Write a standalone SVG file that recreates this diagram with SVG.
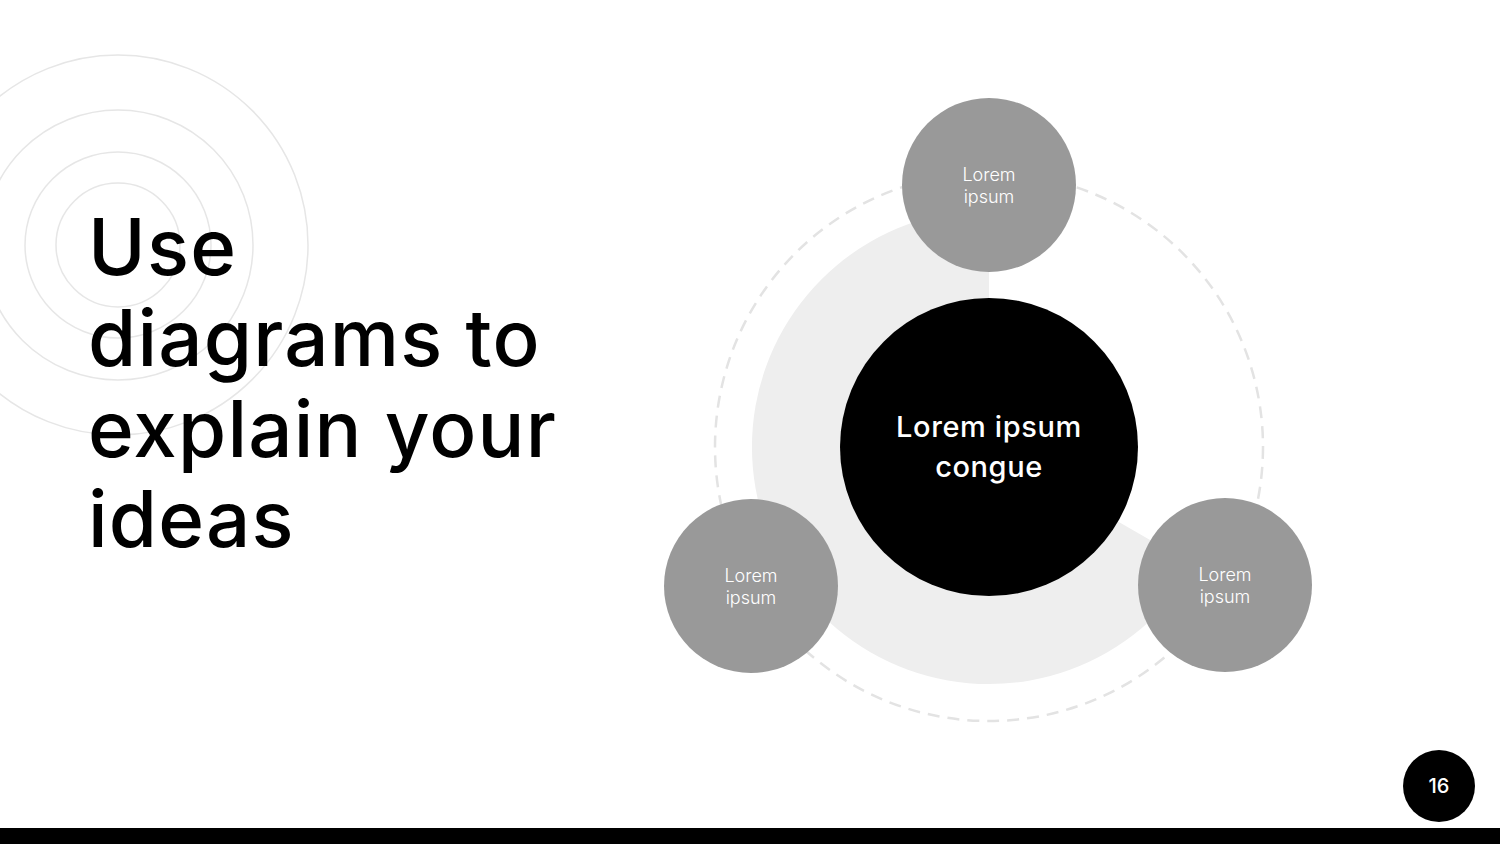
<svg xmlns="http://www.w3.org/2000/svg" width="1500" height="844" viewBox="0 0 1500 844">
<style>
.ring{fill:none;stroke:#e6e6e6;stroke-width:1.5}
.title{font-family:Inter,"Open Sans","Liberation Sans",sans-serif;font-weight:500;font-size:78px;fill:#000;letter-spacing:1.2px}
.sat{fill:#999999}
.satlbl{font-family:Inter,"Open Sans","Liberation Sans",sans-serif;font-weight:300;font-size:18px;fill:#fff;text-anchor:middle}
.hub{font-family:Inter,"Open Sans","Liberation Sans",sans-serif;font-weight:500;font-size:29px;fill:#fff;text-anchor:middle;letter-spacing:0.6px}
</style>
<rect width="1500" height="844" fill="#fff"/>
<g id="rings">
<circle class="ring" cx="118" cy="245" r="62"/>
<circle class="ring" cx="118" cy="245" r="93"/>
<circle class="ring" cx="118" cy="245" r="135"/>
<circle class="ring" cx="118" cy="245" r="190"/>
</g>
<g id="title">
<text class="title" x="88" y="275">Use</text>
<text class="title" x="88" y="366">diagrams to</text>
<text class="title" x="88" y="457">explain your</text>
<text class="title" x="88" y="547">ideas</text>
</g>
<g id="connectors">
<circle cx="989" cy="447" r="274" fill="none" stroke="#e3e3e3" stroke-width="2.5" stroke-dasharray="12 8"/>
<path d="M989,447 L1194.2,565.5 A237,237 0 1 1 989,210 Z" fill="#eeeeee"/>
</g>
<g id="node-top">
<circle class="sat" cx="989" cy="185" r="87"/>
<text class="satlbl" x="989" y="181">Lorem</text>
<text class="satlbl" x="989" y="203">ipsum</text>
</g>
<g id="node-left">
<circle class="sat" cx="751" cy="586" r="87"/>
<text class="satlbl" x="751" y="582">Lorem</text>
<text class="satlbl" x="751" y="604">ipsum</text>
</g>
<g id="node-right">
<circle class="sat" cx="1225" cy="585" r="87"/>
<text class="satlbl" x="1225" y="581">Lorem</text>
<text class="satlbl" x="1225" y="603">ipsum</text>
</g>
<g id="node-center">
<circle cx="989" cy="447" r="149" fill="#000"/>
<text class="hub" x="989" y="437">Lorem ipsum</text>
<text class="hub" x="989" y="477">congue</text>
</g>
<g id="page-number">
<circle cx="1439" cy="786" r="36" fill="#000"/>
<text x="1439" y="793" font-family="Inter,'Open Sans','Liberation Sans',sans-serif" font-weight="500" font-size="20" fill="#fff" text-anchor="middle">16</text>
</g>
<rect id="footer-bar" x="0" y="828" width="1500" height="16" fill="#000"/>
</svg>
